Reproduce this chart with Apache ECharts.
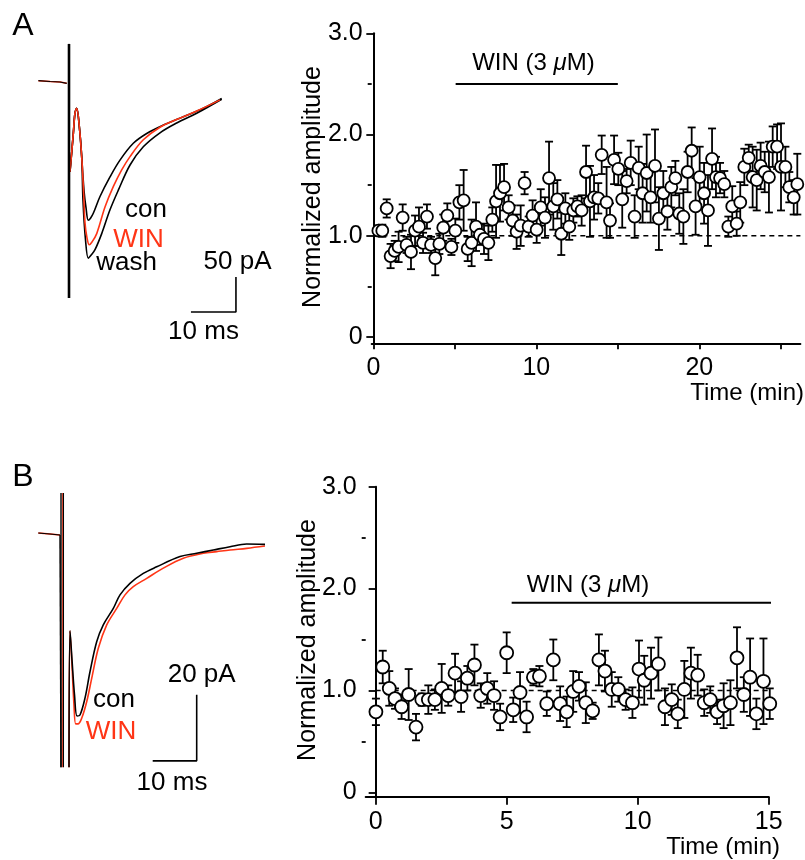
<!DOCTYPE html>
<html>
<head>
<meta charset="utf-8">
<script src="https://cdn.jsdelivr.net/npm/echarts@6/dist/echarts.min.js"></script>
<style>
html,body{margin:0;padding:0;background:#fff;}
#chart{width:805px;height:860px;}
</style>
</head>
<body>
<div id="chart"></div>
<script>
// ---------- Panel A : time course (min, normalized amplitude, SEM) ----------
const timeA = [0.31,0.55,0.82,1.06,1.31,1.55,1.80,2.04,2.31,2.56,2.80,3.05,3.29,3.54,3.80,4.05,4.29,4.54,4.79,5.03,5.28,5.54,5.79,6.03,6.30,6.54,6.79,7.06,7.30,7.53,7.77,8.02,8.30,8.55,8.79,9.04,9.28,9.53,9.77,10.02,10.27,10.53,10.78,11.04,11.29,11.53,11.78,12.02,12.27,12.52,12.78,13.05,13.29,13.54,13.80,14.01,14.31,14.52,14.77,15.03,15.27,15.54,15.79,16.03,16.28,16.52,16.77,17.01,17.28,17.52,17.79,18.04,18.28,18.53,18.77,19.02,19.28,19.53,19.77,20.02,20.29,20.53,20.78,21.02,21.27,21.53,21.78,22.02,22.29,22.51,22.76,23.03,23.27,23.52,23.76,24.01,24.27,24.50,24.77,25.01,25.28,25.52,25.79,26.01];
const ampA  = [1.05,1.05,1.27,0.80,0.85,0.89,1.18,0.91,0.84,1.05,1.09,0.93,1.19,0.91,0.78,0.92,1.08,1.20,0.89,1.05,1.33,1.35,0.87,0.93,1.09,1.01,0.97,0.93,1.16,1.34,1.42,1.48,1.28,1.15,1.04,1.10,1.52,1.09,1.20,1.06,1.28,1.18,1.57,1.29,1.36,1.02,1.27,1.09,1.25,1.29,1.25,1.63,1.34,1.38,1.37,1.80,1.33,1.15,1.75,1.66,1.36,1.54,1.72,1.19,1.67,1.42,1.62,1.38,1.69,1.17,1.42,1.24,1.48,1.57,1.22,1.19,1.63,1.84,1.29,1.58,1.42,1.25,1.76,1.58,1.57,1.51,1.09,1.29,1.12,1.33,1.68,1.77,1.58,1.55,1.69,1.63,1.58,1.88,1.88,1.68,1.68,1.48,1.38,1.51];
const semA  = [0.05,0.06,0.09,0.12,0.10,0.15,0.13,0.08,0.17,0.15,0.19,0.10,0.12,0.08,0.17,0.10,0.13,0.12,0.08,0.12,0.17,0.30,0.12,0.23,0.24,0.10,0.15,0.17,0.12,0.36,0.28,0.23,0.12,0.15,0.17,0.20,0.11,0.10,0.15,0.13,0.18,0.20,0.36,0.23,0.19,0.21,0.15,0.13,0.12,0.10,0.15,0.26,0.35,0.22,0.15,0.19,0.35,0.17,0.24,0.16,0.28,0.12,0.22,0.21,0.21,0.29,0.38,0.25,0.36,0.31,0.22,0.18,0.20,0.17,0.20,0.27,0.20,0.23,0.28,0.30,0.30,0.35,0.30,0.20,0.15,0.13,0.10,0.20,0.12,0.20,0.18,0.13,0.30,0.30,0.23,0.20,0.35,0.20,0.22,0.43,0.20,0.15,0.17,0.30];

// ---------- Panel B : time course ----------
const timeB = [0.01,0.27,0.52,0.74,0.99,1.26,1.54,1.76,2.01,2.26,2.52,2.77,3.03,3.26,3.50,3.77,4.01,4.26,4.52,4.75,5.00,5.25,5.51,5.76,6.02,6.25,6.53,6.78,7.04,7.29,7.54,7.76,8.02,8.28,8.52,8.75,9.01,9.26,9.54,9.80,10.05,10.25,10.51,10.79,11.04,11.30,11.53,11.78,12.03,12.29,12.54,12.77,13.03,13.28,13.54,13.79,14.05,14.29,14.53,14.80,15.04];
const ampB  = [0.79,1.23,1.02,0.92,0.84,0.96,0.64,0.91,0.91,0.91,1.02,0.95,1.17,0.94,1.12,1.25,0.95,1.02,0.95,0.74,1.37,0.81,0.98,0.74,1.13,1.14,0.87,1.30,0.87,0.79,0.99,1.04,0.88,0.80,1.30,1.19,1.01,1.01,0.91,0.88,1.21,1.10,1.17,1.26,0.84,0.91,0.77,1.01,1.17,1.15,0.88,0.91,0.79,0.85,0.88,1.32,0.96,1.13,0.77,1.09,0.87];
const semB  = [0.13,0.16,0.17,0.10,0.12,0.25,0.13,0.06,0.14,0.10,0.24,0.10,0.19,0.15,0.12,0.20,0.12,0.15,0.14,0.13,0.20,0.12,0.20,0.15,0.08,0.10,0.12,0.20,0.17,0.15,0.20,0.14,0.20,0.08,0.25,0.20,0.17,0.12,0.10,0.15,0.28,0.24,0.25,0.26,0.18,0.15,0.14,0.28,0.25,0.20,0.13,0.13,0.12,0.22,0.22,0.30,0.17,0.38,0.15,0.42,0.15];

// drug application bars [start, end] (min)
const drugA = [5.05, 15.0];
const drugB = [5.19, 15.2];

// axis ticks
const ampTicks = [0, 1, 2, 3];
const ampMinor = [0.5, 1.5, 2.5];
const timeTicksA = [0, 5, 10, 15, 20, 25];
const timeLabelsA = [0, 10, 20];
const timeTicksB = [0, 5, 10, 15];

// ---------- Example traces (ms, pA relative to baseline) ----------
const baseA = [[-6.8,0.4],[-4.2,-0.7],[-2.0,-1.4],[-0.5,-3.3]];
const artifactA = [[0,53],[0,-310]];
const conA  = [[0.22,-130],[0.96,-75],[1.33,-46],[1.71,-39],[2.29,-65],[2.82,-108],[3.33,-156],[3.78,-181],[4.29,-199],[4.78,-196],[5.4,-189],[6.89,-165],[9.11,-137],[11.33,-113],[14.29,-89],[17.27,-75],[20.96,-63],[25.4,-51],[29.84,-39],[33.93,-25]];
const winA  = [[0.22,-130],[0.96,-75],[1.33,-46],[1.71,-39],[2.29,-65],[2.82,-108],[3.22,-156],[3.56,-203],[4.0,-224],[4.51,-234],[5.11,-230],[6.16,-218],[8.0,-180],[9.84,-151],[11.71,-127],[13.56,-108],[16.51,-84],[20.22,-66],[23.93,-55],[28.38,-43],[33.56,-27]];
const washA = [[0.22,-130],[0.96,-75],[1.33,-46],[1.71,-39],[2.29,-65],[2.82,-108],[3.11,-171],[3.67,-227],[4.29,-253],[4.89,-249],[5.78,-241],[7.27,-218],[9.11,-184],[10.96,-156],[13.56,-120],[16.51,-94],[20.22,-74],[23.93,-60],[28.38,-46],[33.93,-26]];

const baseB = [[-5.16,0.15],[-2.5,-0.15],[-0.23,-0.45]];
const stepB = [[-0.23,-0.45],[0,-0.5],[0,-70.8]];
const artifactB = [[0,12.3],[0,-70.8]];
const artifactB2 = [[0.55,12.3],[0.55,-70.8]];
const artifactBred = [[0.4,12.3],[0.4,-70.8]];
const conB = [[1.82,-70.8],[2.05,-29.5],[2.5,-38.3],[3.07,-48.9],[3.64,-55.3],[4.32,-55],[5.45,-49.9],[6.59,-41.9],[8.11,-32.8],[9.61,-27.7],[11.89,-22.7],[13.41,-18.6],[15.68,-15.1],[18.7,-12.1],[21.75,-10.1],[27.05,-7],[30.84,-6],[34.61,-5],[38.41,-4],[42.2,-3.2],[46.36,-3.3]];
const winB = [[1.82,-70.8],[2.05,-29.5],[2.5,-40],[2.95,-52],[3.34,-57.7],[3.86,-57.7],[4.7,-56],[5.84,-51],[6.98,-43.9],[8.48,-34.8],[10.39,-27.7],[12.66,-22.7],[14.55,-18.6],[16.43,-16.1],[19.48,-13.6],[23.25,-10.5],[27.8,-7.5],[32.34,-6],[35.39,-5.5],[38.41,-5],[42.2,-4.5],[46.36,-3.8]];

// scale bars: [ms, pA]
const scaleA = [10, 50];
const scaleB = [10, 20];

// ---------- build ----------
const FONT = 'Liberation Sans, Arial, Helvetica, sans-serif';
const RED = '#ff3516';
const zip3 = (t, v, e) => t.map((x, i) => [x, v[i], e[i]]);
const dataA = zip3(timeA, ampA, semA);
const dataB = zip3(timeB, ampB, semB);

function errItem(params, api) {
  const x = api.value(0), y = api.value(1), e = api.value(2);
  const p1 = api.coord([x, y + e]);
  const p2 = api.coord([x, y - e]);
  const hw = 4;
  const st = { stroke: '#000', lineWidth: 1.8 };
  return { type: 'group', children: [
    { type: 'line', shape: { x1: p1[0], y1: p1[1], x2: p2[0], y2: p2[1] }, style: st },
    { type: 'line', shape: { x1: p1[0] - hw, y1: p1[1], x2: p1[0] + hw, y2: p1[1] }, style: st },
    { type: 'line', shape: { x1: p2[0] - hw, y1: p2[1], x2: p2[0] + hw, y2: p2[1] }, style: st }
  ]};
}

function traceLine(data, xi, yi, color, w, extra) {
  return Object.assign({ type: 'line', xAxisIndex: xi, yAxisIndex: yi, data: data, showSymbol: false, symbol: 'none',
    smooth: 0.35, clip: false, lineStyle: { color: color, width: w }, silent: true, z: 3 }, extra || {});
}

function scaleBar(corner, sc, xi, yi) {
  const [t, I] = corner;
  return { type: 'line', xAxisIndex: xi, yAxisIndex: yi, showSymbol: false, symbol: 'none', clip: false, silent: true,
    data: [[t - sc[0], I], [t, I], [t, I + sc[1]]], lineStyle: { color: '#000', width: 1.6 } };
}

const axisLabelStyle = { color: '#000', fontSize: 25, fontFamily: FONT };

function ampAxis(gi) {
  const mn = gi === 1 ? -0.062 : -0.043;
  return [{
    gridIndex: gi, type: 'value', position: 'left', min: mn, max: 3,
    axisLine: { show: true, lineStyle: { color: '#000', width: 2 } },
    axisTick: { show: true, customValues: ampTicks, length: 7, lineStyle: { color: '#000', width: 1.8 } },
    axisLabel: Object.assign({ customValues: ampTicks, margin: 9, formatter: v => v === 0 ? '0' : v.toFixed(1) }, axisLabelStyle),
    splitLine: { show: false }
  }, {
    gridIndex: gi, type: 'value', position: 'left', min: mn, max: 3,
    axisLine: { show: false },
    axisTick: { show: true, customValues: ampMinor, length: 4, lineStyle: { color: '#000', width: 1.8 } },
    axisLabel: { show: false }, splitLine: { show: false }
  }];
}

function labelSeries(xi, yi, pos) {
  return { type: 'scatter', xAxisIndex: xi, yAxisIndex: yi, data: [pos], symbolSize: 1,
    itemStyle: { color: 'rgba(0,0,0,0)', opacity: 1 }, clip: false, silent: true,
    label: { show: true, position: 'inside', formatter: '{a|WIN (3 }{b|μ}{a|M)}',
      rich: { a: { fontSize: 24, fontFamily: FONT, color: '#000', opacity: 1 }, b: { fontSize: 24, fontFamily: FONT, fontStyle: 'italic', color: '#000', opacity: 1 } } } };
}

function txt(x, y, s, size, color, align, rot) {
  return { type: 'text', x: x, y: y, rotation: rot || 0,
    style: { text: s, fontSize: size, fontFamily: FONT, fill: color || '#000', align: align || 'center', verticalAlign: 'middle' } };
}

const chart = echarts.init(document.getElementById('chart'), null, { renderer: 'canvas' });
chart.setOption({
  backgroundColor: '#fff',
  animation: false,
  grid: [
    { left: 37.5, top: 39, width: 202.5, height: 280, outerBoundsMode: 'none' },
    { left: 371.7, top: 33.3, width: 428.7, height: 310, outerBoundsMode: 'none' },
    { left: 34.6, top: 487.3, width: 231, height: 283.8, outerBoundsMode: 'none' },
    { left: 365.7, top: 486.7, width: 403, height: 310, outerBoundsMode: 'none' }
  ],
  xAxis: [
    { gridIndex: 0, type: 'value', min: -7, max: 38, show: false },
    { gridIndex: 1, type: 'value', min: -0.1, max: 26.2,
      axisLine: { show: true, onZero: false, lineStyle: { color: '#000', width: 2 } },
      axisTick: { show: true, customValues: timeTicksA, length: 6, lineStyle: { color: '#000', width: 1.8 } },
      axisLabel: Object.assign({ customValues: timeLabelsA, margin: 12 }, axisLabelStyle),
      splitLine: { show: false } },
    { gridIndex: 2, type: 'value', min: -6, max: 46.5, show: false },
    { gridIndex: 3, type: 'value', min: -0.38, max: 15,
      axisLine: { show: true, onZero: false, lineStyle: { color: '#000', width: 2 } },
      axisTick: { show: true, customValues: timeTicksB, length: 8, lineStyle: { color: '#000', width: 1.8 } },
      axisLabel: Object.assign({ customValues: timeTicksB, margin: 13 }, axisLabelStyle),
      splitLine: { show: false } }
  ],
  yAxis: [
    { gridIndex: 0, type: 'value', min: -340, max: 60, show: false },
    ...ampAxis(1),
    { gridIndex: 2, type: 'value', min: -72, max: 14, show: false },
    ...ampAxis(3)
  ],
  series: [
    // ---- trace A ----
    traceLine(baseA, 0, 0, RED, 1.6, { smooth: false }),
    traceLine(baseA, 0, 0, '#000', 1.2, { smooth: false }),
    traceLine(conA, 0, 0, '#000', 1.6),
    traceLine(washA, 0, 0, '#000', 1.6),
    traceLine(winA, 0, 0, RED, 1.6, { z: 4 }),
    traceLine(artifactA, 0, 0, '#000', 2.6, { smooth: false, z: 5 }),
    scaleBar([37.1, -330], scaleA, 0, 0),
    // ---- scatter A ----
    { type: 'line', xAxisIndex: 1, yAxisIndex: 1, data: [[0, 1], [26.2, 1]], showSymbol: false, symbol: 'none', clip: false, silent: true,
      lineStyle: { color: '#000', width: 1.5, type: [5, 4] }, z: 1 },
    { type: 'line', xAxisIndex: 1, yAxisIndex: 1, data: drugA.map(t => [t, 2.5]), showSymbol: false, symbol: 'none', clip: false, silent: true,
      lineStyle: { color: '#000', width: 2 } },
    labelSeries(1, 1, [9.82, 2.70]),
    { type: 'custom', xAxisIndex: 1, yAxisIndex: 1, data: dataA, renderItem: errItem, encode: { x: 0, y: 1 }, clip: false, silent: true, z: 2 },
    { type: 'scatter', xAxisIndex: 1, yAxisIndex: 1, data: dataA.map(d => [d[0], d[1]]), symbol: 'circle', symbolSize: 12, clip: false, silent: true, z: 3,
      itemStyle: { color: '#fff', borderColor: '#000', borderWidth: 1.8, opacity: 1 } },
    // ---- trace B ----
    traceLine(baseB, 2, 3, RED, 1.6, { smooth: false }),
    traceLine(baseB, 2, 3, '#000', 1.2, { smooth: false }),
    traceLine(stepB, 2, 3, '#000', 1.4, { smooth: false }),
    traceLine(artifactB, 2, 3, '#000', 1.4, { smooth: false }),
    traceLine(artifactBred, 2, 3, RED, 1.2, { smooth: false }),
    traceLine(artifactB2, 2, 3, '#000', 1.2, { smooth: false }),
    traceLine(winB, 2, 3, RED, 1.6),
    traceLine(conB, 2, 3, '#000', 1.6, { z: 4 }),
    scaleBar([30.84, -68.9], scaleB, 2, 3),
    // ---- scatter B ----
    { type: 'line', xAxisIndex: 3, yAxisIndex: 4, data: [[0, 1], [15.2, 1]], showSymbol: false, symbol: 'none', clip: false, silent: true,
      lineStyle: { color: '#000', width: 1.5, type: [5, 4] }, z: 1 },
    { type: 'line', xAxisIndex: 3, yAxisIndex: 4, data: drugB.map(t => [t, 1.86]), showSymbol: false, symbol: 'none', clip: false, silent: true,
      lineStyle: { color: '#000', width: 2 } },
    labelSeries(3, 4, [8.1, 2.03]),
    { type: 'custom', xAxisIndex: 3, yAxisIndex: 4, data: dataB, renderItem: errItem, encode: { x: 0, y: 1 }, clip: false, silent: true, z: 2 },
    { type: 'scatter', xAxisIndex: 3, yAxisIndex: 4, data: dataB.map(d => [d[0], d[1]]), symbol: 'circle', symbolSize: 13, clip: false, silent: true, z: 3,
      itemStyle: { color: '#fff', borderColor: '#000', borderWidth: 1.8, opacity: 1 } }
  ],
  graphic: [
    txt(23, 26, 'A', 32),
    txt(23, 477, 'B', 32),
    txt(146, 210, 'con', 26),
    txt(138.5, 240, 'WIN', 26, RED),
    txt(126.5, 263, 'wash', 26),
    txt(237.5, 261.7, '50 pA', 26),
    txt(203.5, 331.7, '10 ms', 26),
    txt(114, 700, 'con', 26),
    txt(111, 731.7, 'WIN', 26, RED),
    txt(201.7, 675, '20 pA', 26),
    txt(172, 783.3, '10 ms', 26),
    txt(313, 187, 'Normalized amplitude', 25, '#000', 'center', Math.PI / 2),
    txt(308, 640, 'Normalized amplitude', 25, '#000', 'center', Math.PI / 2),
    txt(804, 393, 'Time (min)', 24, '#000', 'right'),
    txt(780, 847, 'Time (min)', 24, '#000', 'right')
  ]
});
</script>
</body>
</html>
